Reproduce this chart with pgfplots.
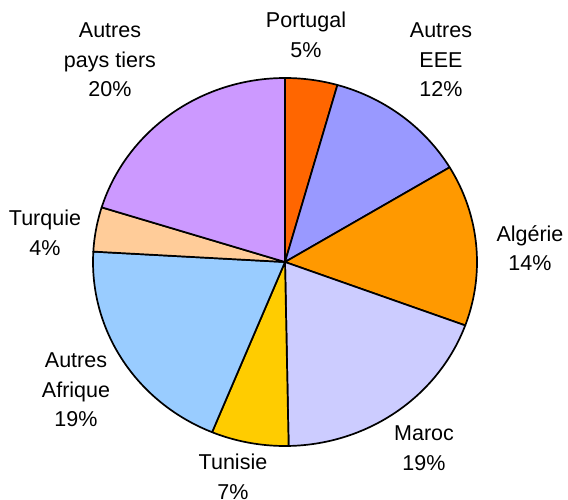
\documentclass[border=0pt]{standalone}
\usepackage{fontspec}
\setmainfont{Liberation Sans}
\usepackage{pgfplots}
\pgfplotsset{compat=1.18}
\definecolor{cPortugal}{HTML}{FF6600}
\definecolor{cEEE}{HTML}{9999FF}
\definecolor{cAlgerie}{HTML}{FF9900}
\definecolor{cMaroc}{HTML}{CCCCFF}
\definecolor{cTunisie}{HTML}{FFCC00}
\definecolor{cAfrique}{HTML}{99CCFF}
\definecolor{cTurquie}{HTML}{FFCC99}
\definecolor{cTiers}{HTML}{CC99FF}
% shares (percent): Portugal 4.4, Autres EEE 12.0, Algerie 14.2, Maroc 19.1,
% Tunisie 6.5, Autres Afrique 19.7, Turquie 3.9, Autres pays tiers 20.2
\newcommand{\slice}[3]{%
  \addplot[draw=black, line width=1.7pt, line join=round, fill=#3, domain=#1:#2, samples=60, variable=\p]
    ({285+192*cos(90-3.6*\p)}, {237+184*sin(90-3.6*\p)}) -- (axis cs:285,237) -- cycle;
}
\begin{document}
\begin{tikzpicture}
\begin{axis}[
  scale only axis, width=568pt, height=499pt,
  xmin=0, xmax=568, ymin=0, ymax=499,
  hide axis, clip=false,
]
\slice{0}{4.4}{cPortugal}
\slice{4.4}{16.4}{cEEE}
\slice{16.4}{30.6}{cAlgerie}
\slice{30.6}{49.7}{cMaroc}
\slice{49.7}{56.2}{cTunisie}
\slice{56.2}{75.9}{cAfrique}
\slice{75.9}{79.8}{cTurquie}
\slice{79.8}{100}{cTiers}
\tikzset{lab/.style={align=center, inner sep=0pt, font=\fontsize{21.5}{29.5}\selectfont}}
\node[lab] at (axis cs:306,464) {Portugal\\5\%};
\node[lab] at (axis cs:441,439) {Autres\\EEE\\12\%};
\node[lab] at (axis cs:530,251) {Algérie\\14\%};
\node[lab] at (axis cs:424,51) {Maroc\\19\%};
\node[lab] at (axis cs:233,22) {Tunisie\\7\%};
\node[lab] at (axis cs:76,109) {Autres\\Afrique\\19\%};
\node[lab] at (axis cs:45,266) {Turquie\\4\%};
\node[lab] at (axis cs:110,439) {Autres\\pays tiers\\20\%};
\end{axis}
\pgfresetboundingbox
\path[use as bounding box] (current axis.south west) rectangle (current axis.north east);
\end{tikzpicture}
\end{document}
